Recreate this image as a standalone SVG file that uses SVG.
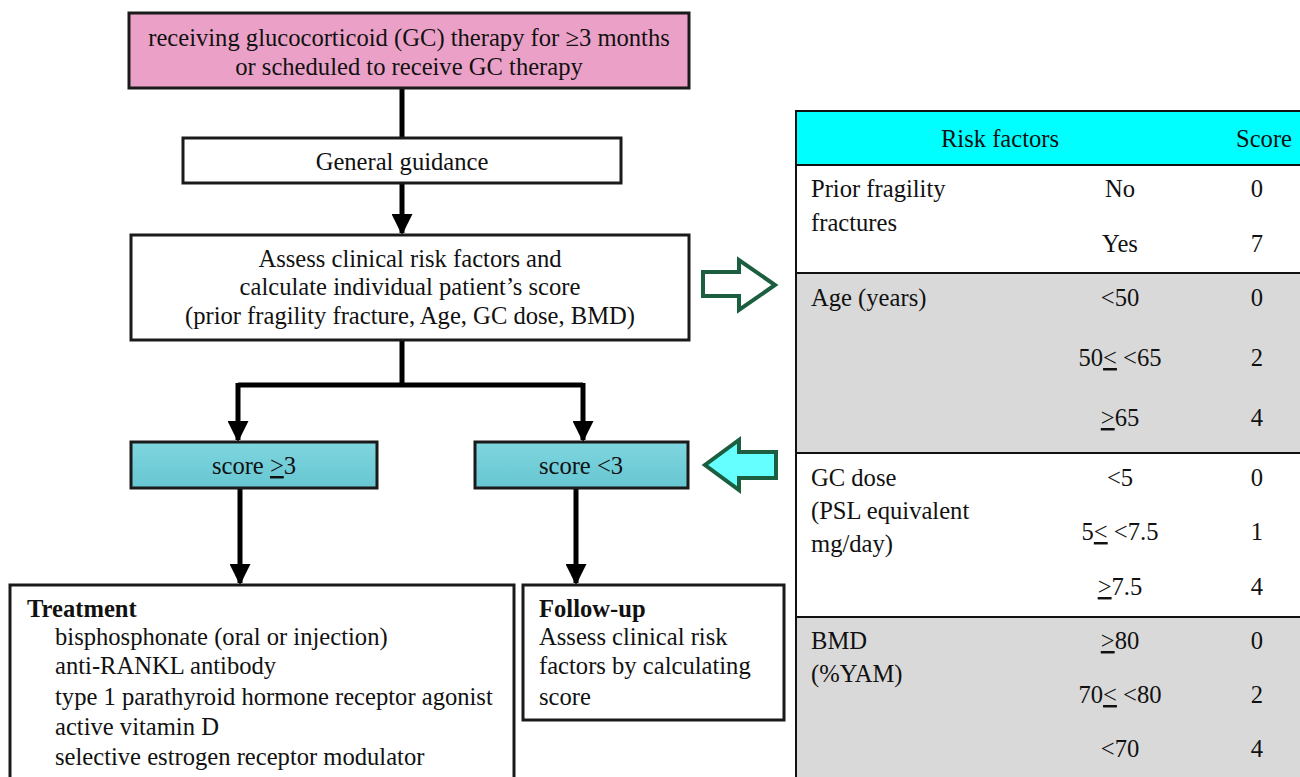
<svg xmlns="http://www.w3.org/2000/svg" width="1300" height="777" viewBox="0 0 1300 777">
<defs>
<style>
text{font-family:"Liberation Serif","Times New Roman",serif;font-size:24.6px;fill:#111}
.c{text-anchor:middle}
.b{font-weight:bold}
.box{stroke:#1a1a1a;stroke-width:3}
.conn{stroke:#000;stroke-width:5;fill:none}
.u{text-decoration:underline}
.grid{stroke:#111;stroke-width:2}
</style>
<marker id="ah" viewBox="0 0 10 10" refX="9" refY="5" markerWidth="4.2" markerHeight="4.2" orient="auto" markerUnits="strokeWidth">
<path d="M0,0 L10,5 L0,10 Z" fill="#000"/>
</marker>
<linearGradient id="teal" x1="0" y1="0" x2="0" y2="1">
<stop offset="0" stop-color="#7fd6df"/><stop offset="1" stop-color="#66c6d2"/>
</linearGradient>
</defs>

<g id="connectors">
<path class="conn" d="M402,88 V138"/>
<path class="conn" d="M402,183 V233" marker-end="url(#ah)"/>
<path class="conn" d="M402,340 V385 M238,385 H583"/>
<path class="conn" d="M238,383 V440" marker-end="url(#ah)"/>
<path class="conn" d="M583,383 V440" marker-end="url(#ah)"/>
<path class="conn" d="M240,488 V583" marker-end="url(#ah)"/>
<path class="conn" d="M576,488 V583" marker-end="url(#ah)"/>
</g>

<g id="node-start">
<rect class="box" x="129" y="13" width="560" height="75" fill="#eba1c7"/>
<text class="c" x="409" y="46">receiving glucocorticoid (GC) therapy for ≥3 months</text>
<text class="c" x="409" y="75">or scheduled to receive GC therapy</text>
</g>

<g id="node-guidance">
<rect class="box" x="183" y="138" width="438" height="45" fill="#fff"/>
<text class="c" x="402" y="170">General guidance</text>
</g>

<g id="node-assess">
<rect class="box" x="131" y="235" width="558" height="105" fill="#fff"/>
<text class="c" x="410" y="267">Assess clinical risk factors and</text>
<text class="c" x="410" y="295">calculate individual patient’s score</text>
<text class="c" x="410" y="324">(prior fragility fracture, Age, GC dose, BMD)</text>
</g>

<g id="node-score-high">
<rect class="box" x="131" y="442" width="246" height="46" fill="url(#teal)"/>
<text class="c" x="254" y="474">score <tspan class="u">&gt;</tspan>3</text>
</g>

<g id="node-score-low">
<rect class="box" x="475" y="442" width="213" height="46" fill="url(#teal)"/>
<text class="c" x="581" y="474">score &lt;3</text>
</g>

<g id="node-treatment">
<rect class="box" x="10" y="585" width="504" height="200" fill="#fff"/>
<text class="b" x="27" y="617">Treatment</text>
<text x="55" y="645">bisphosphonate (oral or injection)</text>
<text x="55" y="674">anti-RANKL antibody</text>
<text x="55" y="705">type 1 parathyroid hormone receptor agonist</text>
<text x="55" y="735">active vitamin D</text>
<text x="55" y="765">selective estrogen receptor modulator</text>
</g>

<g id="node-followup">
<rect class="box" x="523" y="585" width="261" height="135" fill="#fff"/>
<text class="b" x="539" y="617">Follow-up</text>
<text x="539" y="645">Assess clinical risk</text>
<text x="539" y="674">factors by calculating</text>
<text x="539" y="705">score</text>
</g>

<g id="arrow-to-table">
<path d="M703,272 H739 V260 L775,285 L739,310 V296 H703 Z" fill="#fff" stroke="#1b5e40" stroke-width="4" stroke-linejoin="miter"/>
</g>

<g id="arrow-from-table">
<path d="M776,452 H739 V440 L705,465 L739,490 V478 H776 Z" fill="#66ffff" stroke="#1b5e40" stroke-width="4" stroke-linejoin="miter"/>
</g>

<g id="table-risk">
<rect x="795" y="111" width="510" height="54" fill="#00ffff"/>
<rect x="795" y="165" width="510" height="108" fill="#fff"/>
<rect x="795" y="273" width="510" height="180" fill="#d9d9d9"/>
<rect x="795" y="453" width="510" height="164" fill="#fff"/>
<rect x="795" y="617" width="510" height="165" fill="#d9d9d9"/>
<path class="grid" d="M796,111 V777 M795,111 H1300 M795,165 H1300 M795,273 H1300 M795,453 H1300 M795,617 H1300"/>
<text class="c" x="1000" y="147">Risk factors</text>
<text class="c" x="1264" y="147">Score</text>

<text x="811" y="197">Prior fragility</text>
<text x="811" y="231">fractures</text>
<text class="c" x="1120" y="197">No</text>
<text class="c" x="1257" y="197">0</text>
<text class="c" x="1120" y="252">Yes</text>
<text class="c" x="1257" y="252">7</text>

<text x="811" y="306">Age (years)</text>
<text class="c" x="1120" y="306">&lt;50</text>
<text class="c" x="1257" y="306">0</text>
<text class="c" x="1120" y="366">50<tspan class="u">&lt;</tspan> &lt;65</text>
<text class="c" x="1257" y="366">2</text>
<text class="c" x="1120" y="426"><tspan class="u">&gt;</tspan>65</text>
<text class="c" x="1257" y="426">4</text>

<text x="811" y="486">GC dose</text>
<text x="811" y="519">(PSL equivalent</text>
<text x="811" y="552">mg/day)</text>
<text class="c" x="1120" y="486">&lt;5</text>
<text class="c" x="1257" y="486">0</text>
<text class="c" x="1120" y="540">5<tspan class="u">&lt;</tspan> &lt;7.5</text>
<text class="c" x="1257" y="540">1</text>
<text class="c" x="1120" y="595"><tspan class="u">&gt;</tspan>7.5</text>
<text class="c" x="1257" y="595">4</text>

<text x="811" y="649">BMD</text>
<text x="811" y="682">(%YAM)</text>
<text class="c" x="1120" y="649"><tspan class="u">&gt;</tspan>80</text>
<text class="c" x="1257" y="649">0</text>
<text class="c" x="1120" y="703">70<tspan class="u">&lt;</tspan> &lt;80</text>
<text class="c" x="1257" y="703">2</text>
<text class="c" x="1120" y="757">&lt;70</text>
<text class="c" x="1257" y="757">4</text>
</g>
</svg>
